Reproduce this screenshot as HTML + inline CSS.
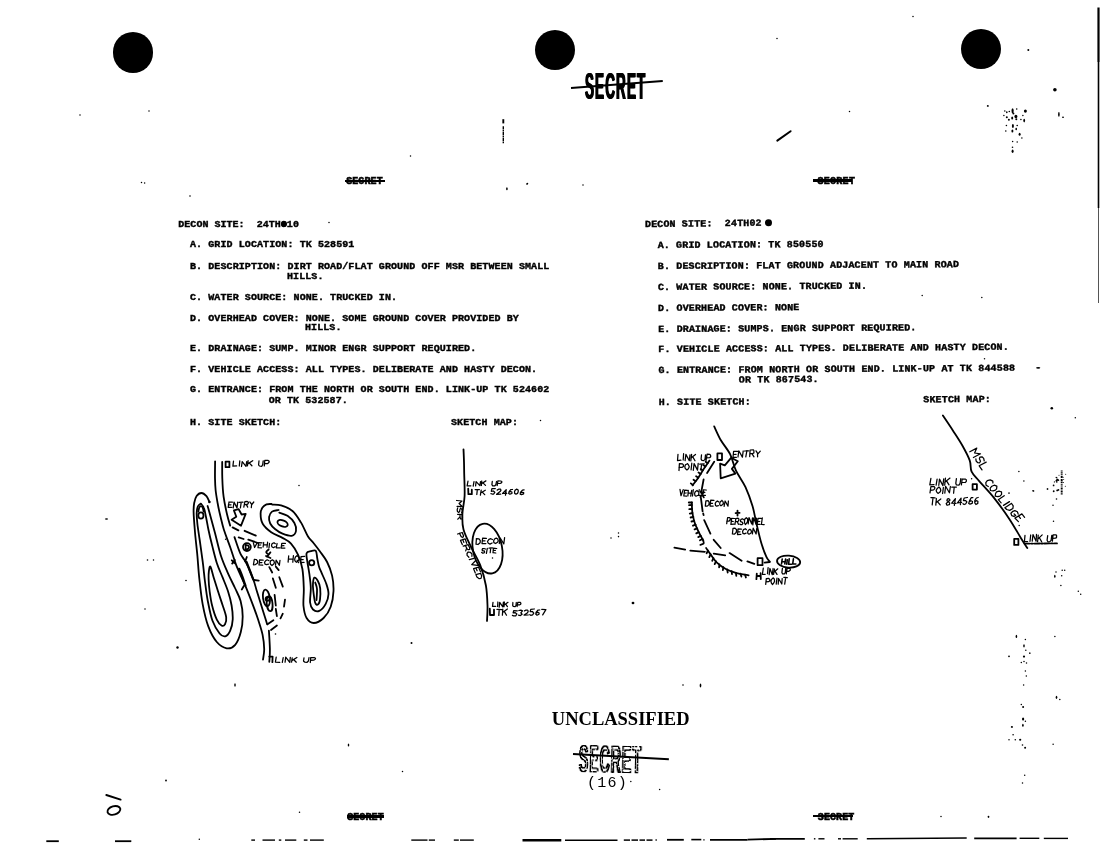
<!DOCTYPE html>
<html>
<head>
<meta charset="utf-8">
<title>Decon Sites</title>
<style>
html,body{margin:0;padding:0;background:#fff;}
body{width:1104px;height:848px;position:relative;overflow:hidden;filter:grayscale(1);font-family:"Liberation Mono",monospace;color:#000;}
.hole{position:absolute;border-radius:50%;background:#000;}
.t{position:absolute;white-space:pre;font-family:"Liberation Mono",monospace;font-weight:bold;font-size:10px;letter-spacing:0.09px;line-height:10px;height:10px;color:#000;margin-top:1.1px;transform:scaleY(0.93);transform-origin:0 7.4px;-webkit-text-stroke:0.42px #000;}
.blk{position:absolute;left:0;top:0;width:0;height:0;}
#rblk{transform-origin:645px 224px;transform:rotate(-0.36deg);}
#rblk .t{letter-spacing:0.15px;}
.hv{-webkit-text-stroke:0.55px #000;transform:scaleY(1.1);}
.stk{position:absolute;height:2.4px;background:#000;}
.big{position:absolute;font-family:"Liberation Sans",sans-serif;font-weight:bold;white-space:pre;transform-origin:0 0;}
.sm{position:absolute;font-family:"Liberation Mono",monospace;font-weight:bold;font-size:9px;line-height:9px;white-space:pre;transform-origin:0 0;}
.uncl{position:absolute;font-family:"Liberation Serif",serif;font-weight:bold;font-size:18.5px;line-height:18.5px;white-space:pre;}
.pg{position:absolute;font-family:"Liberation Mono",monospace;font-size:15px;line-height:15px;letter-spacing:1.25px;white-space:pre;}
svg{position:absolute;left:0;top:0;}
</style>
</head>
<body>

<!-- punch holes -->
<div class="hole" style="left:113px;top:32.2px;width:40.4px;height:40.4px;"></div>
<div class="hole" style="left:535px;top:30px;width:40.4px;height:40.4px;"></div>
<div class="hole" style="left:961px;top:28.7px;width:40.4px;height:40.4px;"></div>

<!-- top SECRET stamp -->
<div class="big" id="sec1" style="left:584.8px;top:68.9px;font-size:36px;line-height:36px;letter-spacing:3px;transform:scaleX(0.374);text-shadow:1.3px 0 #000,-1.3px 0 #000;">SECRET</div>
<div class="stk" style="left:571.2px;top:83.3px;width:92.2px;height:1.8px;transform-origin:0 50%;transform:rotate(-4.42deg);margin-top:3.6px;"></div>

<!-- small SECRET headers/footers -->
<div class="t hv" id="s1" style="left:346.2px;top:176.2px;">SECRET</div>
<div class="stk" style="left:344.8px;top:179.7px;width:40.2px;"></div>
<div class="t hv" id="s2" style="left:817.4px;top:176px;letter-spacing:0.3px;">SECRET</div>
<div class="stk" style="left:812.9px;top:179.4px;width:39px;"></div>
<div class="t hv" id="s3" style="left:347.2px;top:812px;">SECRET</div>
<div class="stk" style="left:346.7px;top:815.2px;width:37.5px;"></div>
<div class="t hv" id="s4" style="left:817.8px;top:812px;">SECRET</div>
<div class="stk" style="left:812.9px;top:814.9px;width:40.5px;"></div>

<!-- LEFT TEXT BLOCK -->
<div class="blk" id="lblk">
<div class="t" style="left:178.3px;top:218.9px;letter-spacing:0.03px;">DECON SITE:  24TH010</div>
<div class="hole" style="left:281.3px;top:220.6px;width:5.4px;height:6.2px;"></div>
<div class="t" style="left:190px;top:239.4px;">A. GRID LOCATION: TK 528591</div>
<div class="t" style="left:190px;top:260.9px;">B. DESCRIPTION: DIRT ROAD/FLAT GROUND OFF MSR BETWEEN SMALL</div>
<div class="t" style="left:287px;top:270.6px;">HILLS.</div>
<div class="t" style="left:190px;top:291.9px;">C. WATER SOURCE: NONE. TRUCKED IN.</div>
<div class="t" style="left:190px;top:312.9px;">D. OVERHEAD COVER: NONE. SOME GROUND COVER PROVIDED BY</div>
<div class="t" style="left:305px;top:322.4px;">HILLS.</div>
<div class="t" style="left:190px;top:343.2px;">E. DRAINAGE: SUMP. MINOR ENGR SUPPORT REQUIRED.</div>
<div class="t" style="left:190px;top:363.9px;">F. VEHICLE ACCESS: ALL TYPES. DELIBERATE AND HASTY DECON.</div>
<div class="t" style="left:190px;top:384.4px;">G. ENTRANCE: FROM THE NORTH OR SOUTH END. LINK-UP TK 524602</div>
<div class="t" style="left:268.7px;top:394.7px;">OR TK 532587.</div>
<div class="t" style="left:190px;top:416.9px;">H. SITE SKETCH:</div>
<div class="t" style="left:451px;top:416.9px;">SKETCH MAP:</div>
</div>

<!-- RIGHT TEXT BLOCK -->
<div class="blk" id="rblk">
<div class="t" style="left:645.4px;top:218.9px;letter-spacing:0.14px;transform:rotate(-0.3deg) scaleY(0.93);">DECON SITE:  24TH02</div>
<div class="hole" style="left:765.2px;top:219.6px;width:7px;height:7px;"></div>
<div class="t" style="left:657.5px;top:239.6px;">A. GRID LOCATION: TK 850550</div>
<div class="t" style="left:657.5px;top:260.7px;">B. DESCRIPTION: FLAT GROUND ADJACENT TO MAIN ROAD</div>
<div class="t" style="left:657.5px;top:281.6px;">C. WATER SOURCE: NONE. TRUCKED IN.</div>
<div class="t" style="left:657.5px;top:302.5px;">D. OVERHEAD COVER: NONE</div>
<div class="t" style="left:657.5px;top:323.7px;">E. DRAINAGE: SUMPS. ENGR SUPPORT REQUIRED.</div>
<div class="t" style="left:657.5px;top:344px;">F. VEHICLE ACCESS: ALL TYPES. DELIBERATE AND HASTY DECON.</div>
<div class="t" style="left:657.5px;top:364.5px;">G. ENTRANCE: FROM NORTH OR SOUTH END. LINK-UP AT TK 844588</div>
<div class="t" style="left:737.8px;top:374.8px;">OR TK 867543.</div>
<div class="t" style="left:657.5px;top:396.7px;">H. SITE SKETCH:</div>
<div class="t" style="left:922.2px;top:396.2px;">SKETCH MAP:</div>
</div>

<!-- bottom center -->
<div class="uncl" id="uncl" style="left:551.8px;top:709.6px;">UNCLASSIFIED</div>
<svg width="0" height="0" style="position:absolute"><defs>
<filter id="hollow" x="-5%" y="-10%" width="110%" height="120%">
<feMorphology in="SourceAlpha" operator="erode" radius="1.05" result="er"/>
<feComposite in="SourceGraphic" in2="er" operator="out" result="ol"/>
<feTurbulence type="fractalNoise" baseFrequency="0.55" numOctaves="2" seed="7" result="n"/>
<feColorMatrix in="n" type="matrix" values="0 0 0 0 0  0 0 0 0 0  0 0 0 0 0  0 0 0 -9 6.3" result="m"/>
<feComposite in="ol" in2="m" operator="in" result="k"/>
<feColorMatrix in="k" type="matrix" values="0 0 0 0 0  0 0 0 0 0  0 0 0 0 0  0 0 0 1.45 0"/>
</filter></defs></svg>
<div id="sec2w" style="position:absolute;left:570px;top:738px;width:90px;height:40px;filter:url(#hollow);transform:rotate(1.2deg);transform-origin:9px 20px;">
<div class="big" id="sec2" style="left:9.2px;top:2.4px;font-size:38px;line-height:38px;letter-spacing:3px;transform:scaleX(0.366);text-shadow:1.3px 0 #000,-1.3px 0 #000;">SECRET</div>
</div>
<div class="stk" style="left:573.1px;top:752.7px;width:95.6px;height:1.9px;transform-origin:0 50%;transform:rotate(3.1deg);"></div>
<div class="pg" id="pg" style="left:586.9px;top:775.9px;">(16)</div>

<!-- main drawing layer -->
<svg id="art" width="1104" height="848" viewBox="0 0 1104 848" fill="none" stroke="#000" stroke-width="1.8" stroke-linecap="round" stroke-linejoin="round">
<!--ART-->
<!-- sk1.svg -->
<path d="M215.1,461.3 C215.1,464.1 214.9,473.5 215.0,478.3 C215.1,483.1 215.2,485.9 215.6,490.0 C216.0,494.1 216.8,498.5 217.6,503.0 C218.4,507.5 219.5,512.5 220.6,517.0 C221.7,521.5 222.3,524.7 223.9,529.8 C225.5,534.9 228.3,541.8 230.4,547.7 C232.5,553.6 233.8,558.9 236.3,565.4 C238.9,571.9 243.0,580.3 245.7,586.6 C248.3,592.9 250.1,597.6 252.2,603.1 C254.3,608.6 256.4,614.3 258.1,619.6 C259.8,624.9 261.6,630.0 262.6,634.9 C263.6,639.8 264.1,644.9 264.2,649.0 C264.3,653.1 263.2,657.9 263.0,659.7"/>
<path d="M222.2,462.0 C222.2,464.7 222.1,472.5 222.3,478.3 C222.5,484.1 222.8,490.8 223.6,496.7 C224.4,502.6 225.8,508.9 226.9,513.7 C228.0,518.5 229.6,523.7 230.2,525.7"/>
<path d="M234.5,537.1 C235.5,539.9 238.4,549.3 240.4,553.6 C242.4,557.9 244.2,558.7 246.3,563.0 C248.5,567.3 251.5,574.8 253.3,579.5 C255.1,584.2 255.3,586.2 256.9,591.3 C258.5,596.4 261.1,604.7 262.8,610.2 C264.5,615.7 266.5,621.9 267.2,624.3"/>
<path d="M268.9,630.7 C269.1,633.8 269.8,643.8 269.9,649.0 C270.0,654.2 269.4,659.7 269.3,661.8"/>
<path d="M239.2,568.9 C239.7,570.2 241.4,574.2 242.4,577.0 C243.4,579.8 244.8,584.0 245.3,585.4" stroke-width="2.4"/>
<path d="M246.5,562.0 C247.1,563.5 248.9,568.1 250.0,571.0 C251.1,573.9 252.8,578.1 253.3,579.5" stroke-width="2.2"/>
<path d="M254.0,580.0 L258.7,580.7 M243.8,586.0 L241.8,589.5 M231.8,560.3 L235.0,563.3 M234.8,560.0 L232.2,563.6 M246.8,557.0 L245.2,561.5"/>
<path d="M209.3,501.6 C208.8,500.7 207.8,497.6 206.5,496.2 C205.2,494.8 203.2,493.0 201.5,493.0 C199.8,493.0 197.8,494.3 196.6,496.0 C195.4,497.7 194.7,500.3 194.2,503.0 C193.7,505.7 193.5,507.1 193.6,512.0 C193.7,516.9 194.4,524.9 195.0,532.2 C195.6,539.5 196.7,548.1 197.4,555.8 C198.1,563.5 198.4,570.3 199.3,578.3 C200.2,586.3 201.1,595.8 202.6,603.8 C204.1,611.8 205.9,620.0 208.3,626.4 C210.7,632.8 213.7,638.4 216.8,642.0 C219.9,645.6 223.6,647.8 226.7,648.3 C229.8,648.8 232.8,647.5 235.2,644.8 C237.5,642.1 239.6,636.7 240.8,632.0 C242.1,627.3 242.7,621.7 242.7,616.5 C242.7,611.3 241.9,605.8 240.6,601.0 C239.3,596.2 237.1,592.6 235.0,588.0 C232.9,583.4 230.3,578.7 228.0,573.4 C225.7,568.1 223.2,562.7 221.0,556.0 C218.8,549.3 216.8,539.7 215.0,533.0 C213.2,526.3 211.6,520.5 210.4,516.0 C209.2,511.5 208.1,507.7 207.6,506.0"/>
<circle cx="209.4" cy="502" r="1.3" fill="#000" stroke="none"/>
<path d="M200.9,503.6 C200.4,504.1 198.5,504.9 197.8,506.5 C197.1,508.1 196.8,510.1 196.7,513.0 C196.6,515.9 196.9,519.5 197.4,524.0 C197.9,528.5 198.8,533.7 199.7,540.0 C200.6,546.3 201.8,554.9 202.7,561.7 C203.6,568.5 204.1,574.5 204.9,581.0 C205.8,587.5 206.5,594.4 207.8,601.0 C209.1,607.6 210.5,615.4 212.5,620.8 C214.5,626.2 217.5,630.9 219.6,633.5 C221.7,636.1 223.5,636.8 225.3,636.3 C227.1,635.8 229.0,633.5 230.2,630.7 C231.4,627.9 232.5,623.8 232.7,619.6 C232.9,615.4 232.4,610.2 231.6,605.5 C230.8,600.8 229.5,596.0 228.0,591.3 C226.5,586.6 224.4,581.9 222.5,577.2 C220.6,572.5 218.5,568.3 216.8,563.0 C215.1,557.7 213.5,550.8 212.1,545.3 C210.7,539.8 209.5,534.7 208.5,530.0 C207.5,525.3 206.8,520.7 206.0,517.0 C205.2,513.3 204.8,510.2 203.9,508.0 C203.1,505.8 201.4,504.3 200.9,503.6"/>
<ellipse cx="200.9" cy="515.5" rx="2.6" ry="3.2"/>
<path d="M198.3,511.5 C198.5,510.8 198.9,508.4 199.3,507.5 C199.8,506.6 200.4,506.1 201.0,506.2 C201.6,506.2 202.4,506.9 202.8,507.8 C203.2,508.7 203.5,510.9 203.6,511.5"/>
<path d="M210.4,566.6 C209.6,565.6 209.2,568.9 208.9,571.0 C208.6,573.1 208.5,575.7 208.6,579.0 C208.7,582.3 209.0,586.6 209.6,591.0 C210.2,595.4 210.9,600.7 212.1,605.5 C213.3,610.3 215.2,616.3 216.8,619.6 C218.4,622.9 220.1,624.7 221.5,625.5 C222.9,626.3 224.2,625.7 225.0,624.3 C225.8,622.9 226.6,620.4 226.2,617.3 C225.8,614.2 224.1,609.8 222.7,605.5 C221.3,601.2 219.5,596.0 218.0,591.3 C216.5,586.6 214.9,581.3 213.6,577.2 C212.3,573.1 211.2,567.6 210.4,566.6Z"/>
<path d="M271.6,504.0 C270.8,504.1 268.0,503.8 266.5,504.4 C265.0,505.0 263.5,506.1 262.5,507.6 C261.5,509.1 260.6,510.8 260.6,513.5 C260.6,516.2 260.9,520.7 262.7,523.8 C264.5,526.9 267.9,529.9 271.2,532.3 C274.5,534.6 279.2,536.0 282.5,537.9 C285.8,539.8 288.4,540.8 291.0,543.6 C293.6,546.4 296.2,550.7 298.1,554.9 C300.0,559.1 301.4,563.4 302.4,569.0 C303.3,574.6 303.6,582.1 303.8,588.3 C304.0,594.5 303.0,601.0 303.5,606.0 C304.0,611.0 304.9,615.2 306.6,618.0 C308.3,620.8 310.9,623.0 313.7,623.0 C316.5,623.0 320.8,620.7 323.6,618.0 C326.4,615.3 329.1,611.2 330.7,606.7 C332.3,602.2 333.3,596.3 333.5,591.1 C333.7,585.9 333.2,580.5 332.1,575.6 C331.0,570.8 329.1,566.0 327.1,562.0 C325.1,558.0 322.3,554.7 320.0,551.5 C317.7,548.3 315.5,545.5 313.5,543.0 C311.5,540.5 310.1,539.9 308.0,536.5 C305.9,533.1 303.5,526.6 300.9,522.4 C298.3,518.1 295.8,513.8 292.5,511.0 C289.2,508.2 284.5,506.5 281.1,505.4 C277.7,504.3 273.7,504.7 272.2,504.6"/>
<path d="M278.6,510.0 C277.5,510.3 273.6,510.4 272.0,511.6 C270.4,512.8 269.4,515.0 269.1,517.0 C268.8,519.0 269.2,521.5 270.2,523.5 C271.2,525.5 272.9,527.3 275.0,529.0 C277.1,530.7 279.7,532.6 282.5,533.7 C285.3,534.8 289.4,536.3 291.7,535.8 C293.9,535.3 295.6,532.9 296.0,530.8 C296.4,528.7 295.8,525.5 294.4,523.0 C293.0,520.5 290.0,517.5 287.5,515.8 C285.0,514.1 280.7,513.1 279.3,512.6"/>
<ellipse cx="282.6" cy="523.4" rx="5.4" ry="3" transform="rotate(22 282.6 523.4)"/>
<path d="M306.6,553.2 C307.2,551.4 309.5,551.6 311.0,551.2 C312.5,550.8 314.8,549.8 315.8,550.9 C316.8,552.0 316.7,555.5 317.2,558.0 C317.7,560.5 318.2,563.8 318.9,566.2 C319.6,568.7 320.2,569.7 321.5,572.7 C322.8,575.7 325.2,580.6 326.4,584.1 C327.6,587.6 328.6,590.7 328.5,594.0 C328.4,597.3 327.2,601.1 325.7,603.9 C324.2,606.7 321.4,610.0 319.3,610.9 C317.2,611.8 314.5,610.9 313.0,609.5 C311.5,608.1 310.5,606.0 310.1,602.5 C309.7,599.0 310.9,593.0 310.8,588.3 C310.7,583.6 310.0,578.6 309.4,574.2 C308.8,569.8 307.9,565.5 307.4,562.0 C306.9,558.5 306.0,555.0 306.6,553.2Z"/>
<circle cx="311.7" cy="562.7" r="2.6"/>
<path d="M314.4,577.7 C313.6,578.0 313.2,581.0 313.0,583.0 C312.8,585.0 312.8,586.8 313.2,590.0 C313.6,593.2 314.3,600.1 315.1,602.5 C315.9,604.9 317.1,605.1 317.9,604.6 C318.7,604.1 319.6,602.3 320.0,599.6 C320.4,596.9 320.5,591.4 320.2,588.3 C319.9,585.2 319.0,583.0 318.0,581.2 C317.0,579.4 315.2,577.4 314.4,577.7Z"/>
<path d="M315.2,582.5 C315.5,583.6 316.8,586.1 317.0,589.0 C317.2,591.9 316.6,598.2 316.5,600.0"/>
<path d="M233.9,510.4 L238.7,509.2 L241.6,514.5 L245.7,513.9 L241.0,525.7 L231.6,519.8 L236.3,516.8Z"/>
<path d="M232.6,527.4 L238.4,530.4 M244.6,530.8 L255.8,535.6 M238.7,537.4 L243.6,539.0 M248.3,539.6 L258.0,543.0"/>
<circle cx="246.9" cy="547.1" r="3.9"/>
<path d="M245.6,545.0 L245.6,549.4"/>
<path d="M245.6,545.0 C246.1,545.2 248.1,545.4 248.6,546.0 C249.1,546.6 248.9,548.0 248.4,548.6 C247.9,549.2 246.1,549.3 245.6,549.4"/>
<ellipse cx="266.4" cy="598" rx="3.4" ry="8.4" transform="rotate(-8 266.4 598)"/>
<ellipse cx="269.6" cy="603.6" rx="2.9" ry="7.6" transform="rotate(-6 269.6 603.6)"/>
<circle cx="267.6" cy="598.8" r="2"/>
<path d="M269.3,567.1 L272.2,572.5 M275.8,566.6 L278.7,570.1 M272.8,578.3 L275.8,587.8 M279.3,577.2 L282.8,586.6 M274.6,594.9 L275.8,605.5 M285.0,599.6 L284.0,606.7 M275.8,609.0 L276.9,616.1 M282.8,613.7 L280.5,618.4 M273.4,620.2 L267.5,624.3 M276.9,625.5 L271.0,630.0"/>
<circle cx="275.5" cy="634" r="0.8" fill="#000" stroke="none"/>
<path d="M225.6,461.6 L229.4,461.6 L229.4,467.2 L225.6,467.2Z"/>
<path d="M269.3,656.6 L272.6,656.6 L272.4,662.2"/>
<path d="M233.5,461.1 L232.9,466.1 L236.6,465.9 M239.8,460.9 L239.3,466.0 M241.5,466.5 L242.2,461.6 L246.0,466.3 L246.7,461.6 M248.1,460.6 L247.5,465.8 M252.7,460.7 L247.7,463.9 M249.2,462.9 L251.9,465.8 M259.0,460.8 L258.6,464.8 L259.4,466.0 L261.8,466.3 L262.7,464.6 L263.2,460.8 M264.3,465.9 L264.8,460.3 L268.1,460.4 L269.2,461.2 L268.9,462.6 L267.7,463.5 L264.5,463.5" stroke-width="1.25"/>
<path d="M232.4,502.2 L229.0,502.0 L228.2,507.3 L231.8,507.3 M228.4,504.7 L231.0,504.8 M233.2,507.9 L234.0,502.1 L237.0,507.9 L237.7,502.2 M239.0,502.3 L243.0,502.2 M241.2,502.4 L240.4,507.8 M243.8,507.1 L244.9,501.6 L247.2,501.4 L248.4,502.3 L248.2,503.5 L247.1,504.6 L244.3,504.6 M246.3,504.4 L247.7,507.1 M249.8,501.9 L251.8,504.5 L253.8,502.0 M251.6,504.7 L251.3,507.6" stroke-width="1.25"/>
<path d="M253.3,542.6 L254.6,547.5 L257.2,542.6 M262.1,542.8 L258.6,542.7 L258.0,547.7 L261.5,547.8 M258.6,545.2 L260.7,545.0 M263.7,542.5 L263.1,547.0 M267.6,542.2 L267.0,547.2 M263.4,544.7 L267.2,544.9 M269.5,543.3 L269.0,547.8 M275.3,543.7 L274.0,542.7 L272.2,543.6 L271.5,545.2 L271.9,546.8 L273.4,547.7 L275.0,546.7 M277.1,543.5 L276.2,547.8 L279.8,547.9 M285.4,543.4 L281.8,543.4 L281.1,548.0 L284.9,548.0 M281.5,545.8 L283.9,545.6" stroke-width="1.25"/>
<path d="M254.3,559.6 L253.4,564.8 L255.4,564.6 L257.4,563.2 L257.7,561.2 L256.2,559.5 L254.3,559.4 M263.2,560.2 L259.6,559.9 L259.0,564.9 L262.7,565.2 M259.4,562.6 L261.9,562.6 M269.0,560.7 L267.2,559.8 L265.7,560.7 L264.5,562.3 L265.0,564.2 L266.6,564.7 L268.5,564.2 M272.5,559.8 L270.6,560.9 L270.1,562.7 L270.5,564.2 L272.0,565.5 L273.7,564.1 L274.4,562.8 L274.0,561.1 L272.4,559.8 M275.5,565.2 L276.1,560.2 L279.4,565.3 L280.0,560.3" stroke-width="1.25"/>
<path d="M288.7,555.8 L288.1,562.1 M293.4,555.7 L292.8,562.2 M288.4,559.0 L293.2,559.2 M296.9,555.7 L295.4,557.0 L294.7,559.1 L294.9,560.8 L296.4,562.3 L298.2,561.1 L299.1,559.0 L298.6,556.9 L296.9,555.6 M297.1,560.2 L298.6,562.7 M304.7,556.4 L301.0,556.6 L300.5,562.6 L304.1,562.4 M300.7,559.5 L303.2,559.6" stroke-width="1.25"/>
<path d="M276.2,657.2 L275.4,662.2 L279.8,662.3 M283.2,657.6 L282.3,662.3 M285.1,662.2 L285.7,657.2 L289.8,662.4 L290.3,657.3 M292.2,657.8 L291.6,662.2 M296.9,657.5 L291.8,660.6 M293.8,659.7 L296.3,662.2 M304.0,657.8 L303.5,661.2 L304.9,662.1 L307.1,662.3 L308.4,661.0 L309.0,657.6 M310.3,662.5 L310.7,657.6 L314.1,657.5 L315.5,658.3 L315.0,659.5 L313.6,660.2 L310.5,660.3" stroke-width="1.25"/>
<path d="M268.6,549.5 C268.2,549.9 266.2,551.2 266.2,552.0 C266.2,552.8 267.7,554.2 268.4,554.3 C269.1,554.4 270.6,552.0 270.4,552.4 C270.2,552.8 267.6,555.9 267.0,556.6"/>
<path d="M266.0,556.0 L270.5,558.0"/>
<!-- sk2.svg -->
<path d="M463.5,449.4 C463.6,451.5 463.9,458.0 464.0,462.0 C464.1,466.0 464.1,467.9 464.2,473.6 C464.3,479.3 464.9,489.3 464.6,496.0 C464.3,502.7 462.6,508.3 462.4,513.9 C462.2,519.5 462.0,523.9 463.5,529.5 C465.0,535.1 468.5,541.5 471.3,547.5 C474.1,553.5 477.9,559.1 480.3,565.4 C482.7,571.7 484.7,578.8 485.9,585.5 C487.1,592.2 487.3,599.8 487.5,605.7 C487.7,611.6 487.1,618.4 487.0,620.9"/>
<ellipse cx="487.5" cy="548.6" rx="14.6" ry="25.2" transform="rotate(-11 487.5 548.6)"/>
<path d="M468.0,481.1 L467.1,485.9 L470.9,485.8 M474.0,481.7 L473.2,486.1 M475.6,485.9 L476.1,481.6 L479.9,485.6 L480.5,481.6 M481.8,481.0 L481.4,485.5 M485.9,480.9 L481.4,483.8 M483.2,483.1 L485.5,485.4 M492.3,481.4 L491.9,484.6 L492.7,485.8 L494.8,485.8 L495.9,484.7 L496.5,481.5 M497.2,485.5 L497.9,480.9 L500.7,481.0 L501.8,481.5 L501.7,482.6 L500.5,483.3 L497.5,483.5" stroke-width="1.25"/>
<path d="M468.2,488.6 L468.4,494.2 L471.8,494.2 L471.8,489.6"/>
<path d="M475.1,489.5 L479.4,489.5 M477.3,489.8 L476.8,494.5 M481.2,490.1 L480.4,495.1 M485.3,490.2 L480.6,493.0 M482.3,492.1 L484.7,494.7 M495.3,488.6 L491.9,488.7 L491.3,491.3 L493.3,491.0 L494.8,492.3 L493.7,494.0 L492.1,494.0 L490.9,493.7 M497.2,490.1 L498.6,489.2 L500.6,489.1 L500.9,490.4 L500.1,491.6 L496.6,494.3 L500.7,494.2 M505.5,495.2 L506.2,489.7 L502.6,493.5 L506.8,493.3 M512.5,489.5 L510.7,489.7 L509.1,491.6 L508.7,493.5 L509.9,494.2 L511.9,493.5 L511.9,492.0 L510.6,491.5 L509.0,492.1 M516.7,489.2 L515.2,490.1 L514.5,491.7 L514.7,493.4 L516.0,494.2 L517.5,493.4 L518.2,491.7 L518.2,490.0 L516.6,489.1 M524.1,489.9 L522.4,490.2 L520.6,492.1 L520.2,494.1 L521.5,494.7 L523.6,494.0 L523.7,492.7 L522.2,492.4 L520.3,492.8" stroke-width="1.25"/>
<path d="M456.6,500.5 L462.0,501.0 L459.1,503.5 L462.4,506.7 L457.1,506.4 M461.6,512.8 L462.4,510.9 L461.7,509.1 L460.7,508.2 L459.9,509.5 L459.6,511.7 L458.4,512.4 L457.4,511.3 L457.2,509.7 L457.7,507.9 M457.6,514.3 L462.4,514.6 L462.5,517.8 L462.2,518.9 L460.7,519.0 L460.1,517.6 L459.9,514.3 M460.0,516.8 L457.8,519.2" stroke-width="1.25"/>
<path d="M457.6,534.0 L462.2,532.5 L463.5,535.7 L463.3,537.0 L462.3,537.3 L461.1,536.6 L459.6,533.4 M466.7,543.3 L465.1,538.8 L460.5,540.4 L462.3,544.6 M462.8,539.4 L463.8,542.4 M463.3,546.2 L468.1,544.6 L469.7,547.8 L469.7,549.4 L468.3,549.7 L466.9,548.7 L465.5,545.6 M466.7,547.9 L465.7,550.9 M471.9,556.3 L472.0,554.0 L470.3,552.3 L468.2,552.0 L467.0,553.5 L467.1,555.4 L468.9,557.3 M474.0,558.3 L469.3,559.6 M475.5,560.8 L471.7,564.6 L477.5,565.4 M480.4,571.5 L478.6,567.2 L473.6,568.7 L475.3,573.0 M475.9,568.0 L477.1,570.8 M480.4,573.3 L475.9,574.6 L476.9,577.1 L479.2,578.7 L481.0,578.3 L481.7,575.9 L480.6,573.2" stroke-width="1.25"/>
<path d="M476.4,539.0 L476.0,544.2 L478.0,544.5 L480.1,542.8 L480.3,540.6 L479.0,538.8 L476.3,538.6 M486.4,538.4 L482.6,538.2 L482.0,543.6 L485.9,543.6 M482.3,540.9 L485.0,540.8 M492.4,539.5 L490.8,538.7 L488.9,539.4 L487.5,541.5 L488.3,543.3 L490.0,544.1 L492.1,543.0 M496.3,538.1 L494.5,539.0 L493.6,540.9 L493.9,542.6 L495.6,543.5 L497.5,542.3 L498.3,541.0 L497.8,539.1 L496.1,538.0 M499.3,543.5 L500.2,538.0 L503.8,543.9 L504.6,537.7" stroke-width="1.25"/>
<path d="M485.5,549.0 L484.0,548.5 L482.5,548.7 L482.1,550.0 L482.8,550.8 L484.3,550.9 L484.6,552.1 L484.0,552.9 L482.7,553.2 L481.6,552.3 M487.3,548.4 L486.4,553.3 M489.0,548.1 L492.4,547.8 M490.7,548.0 L490.2,552.7 M496.7,548.5 L493.4,548.2 L493.0,552.7 L495.8,553.0 M493.4,550.5 L495.4,550.4" stroke-width="1.25"/>
<path d="M493.0,602.4 L492.5,606.4 L495.7,606.4 M497.9,602.0 L497.6,606.5 M499.2,607.1 L499.7,602.3 L502.8,606.9 L503.4,602.1 M504.4,602.0 L504.0,606.6 M508.0,602.3 L504.2,605.0 M505.7,604.1 L507.4,606.7 M512.9,602.5 L512.7,605.4 L513.3,606.5 L515.1,606.7 L516.0,605.6 L516.3,602.5 M517.1,606.5 L517.8,602.3 L520.1,602.3 L520.9,603.1 L520.7,604.2 L519.8,604.8 L517.4,604.6" stroke-width="1.25"/>
<path d="M489.8,608.6 L490.0,615.0 L494.0,615.0 L494.0,609.6"/>
<path d="M497.0,609.4 L501.7,609.6 M499.2,609.5 L498.8,615.4 M502.8,609.2 L502.4,615.1 M507.4,609.0 L502.6,612.5 M504.4,611.6 L506.5,615.2 M517.3,610.8 L513.7,610.7 L513.1,612.8 L515.0,612.6 L516.9,614.0 L515.7,615.8 L513.6,615.8 L512.4,615.3 M518.8,610.5 L520.8,610.1 L522.5,610.9 L520.8,612.8 L522.1,614.2 L520.4,615.6 L518.5,615.2 M524.5,610.9 L526.0,610.0 L527.5,610.0 L528.2,611.0 L527.6,612.7 L524.1,615.1 L528.2,615.0 M534.3,609.0 L530.8,609.3 L530.2,611.7 L532.4,611.5 L533.8,613.1 L532.6,614.8 L530.7,615.3 L529.8,614.7 M539.7,610.0 L537.9,610.2 L536.0,612.5 L535.8,614.3 L537.0,615.2 L539.0,614.2 L539.1,613.0 L537.9,612.2 L536.2,613.1 M541.8,609.4 L545.9,609.6 L542.7,614.9" stroke-width="1.25"/>
<!-- sk3.svg -->
<path d="M714.2,426.4 C715.3,428.7 718.1,435.4 720.7,440.0 C723.4,444.6 727.6,449.1 730.1,454.2 C732.6,459.3 733.4,465.2 736.0,470.7 C738.6,476.2 742.8,481.3 745.5,487.2 C748.2,493.1 750.7,500.1 752.5,506.0 C754.3,511.9 754.7,516.3 756.2,522.5 C757.7,528.7 759.6,537.3 761.3,543.0 C763.0,548.7 765.0,553.8 766.4,556.9 C767.8,560.0 769.2,560.8 769.7,561.6"/>
<path d="M769.7,562.0 L764.6,562.6"/>
<path d="M717.4,453.4 L722.0,453.4 L722.0,460.0 L717.4,460.0Z"/>
<path d="M757.6,558.2 L762.5,558.2 L762.5,565.2 L757.6,565.2Z"/>
<path d="M731.3,457.7 L724.8,465.4 L720.1,463.6 L720.7,478.3 L735.4,473.6 L731.9,468.9 L737.8,461.2Z"/>
<path d="M709.5,460.6 C708.6,461.9 706.1,465.5 704.2,468.3 C702.3,471.1 700.2,474.9 698.3,477.7 C696.4,480.5 693.5,484.1 692.6,485.4"/>
<path d="M707.7,463.2 L705.6,461.7 M705.4,466.6 L703.2,465.1 M702.9,470.4 L700.7,469.1 M700.7,473.9 L698.5,472.5 M698.3,477.7 L696.1,476.3 M695.6,481.3 L693.5,479.8 M692.9,485.0 L690.8,483.4"/>
<path d="M691.8,502.5 C691.9,504.1 691.9,508.9 692.3,512.0 C692.7,515.1 693.3,518.1 694.3,521.4 C695.3,524.7 697.0,528.4 698.5,531.6 C700.0,534.8 702.4,538.9 703.2,540.4"/>
<path d="M691.9,505.0 L689.1,505.1 M692.1,509.0 L689.3,509.1 M692.5,513.0 L689.8,513.6 M693.4,516.9 L690.6,517.5 M694.2,520.9 L691.5,521.5 M695.6,524.6 L693.0,525.7 M697.2,528.4 L694.6,529.4 M698.7,532.1 L696.3,533.4 M700.7,535.8 L698.3,537.1 M702.5,539.0 L700.0,540.3"/>
<path d="M703.2,540.4 C703.3,540.9 704.1,542.9 703.6,543.6 C703.1,544.4 700.9,544.7 700.4,544.9"/>
<path d="M688.8,502.5 L692.0,502.5"/>
<path d="M706.1,548.0 C706.9,549.1 708.8,552.0 710.6,554.4 C712.4,556.8 714.4,560.2 716.9,562.6 C719.4,565.0 722.6,567.3 725.8,569.0 C729.0,570.7 732.1,571.8 735.9,572.8 C739.7,573.8 746.5,574.9 748.6,575.3"/>
<path d="M707.9,550.6 L706.6,553.3 M710.6,554.4 L709.3,557.1 M713.4,558.1 L712.2,560.8 M716.0,561.4 L714.7,564.1 M719.4,564.4 L719.1,567.4 M723.3,567.2 L722.9,570.1 M727.2,569.5 L727.7,572.5 M731.6,571.2 L732.0,574.1 M735.9,572.8 L736.3,575.8 M740.5,573.7 L741.4,576.6 M745.0,574.6 L745.9,577.5"/>
<path d="M714.2,461.8 L707.1,473.0 M703.6,479.5 L701.3,491.9 M700.9,497.8 L702.6,511.3 M703.2,513.5 L703.6,515.1 M704.2,520.1 L710.4,533.6 M713.7,539.8 L720.7,548.0 M729.6,553.1 L741.6,560.7 M747.4,561.4 L754.3,563.9"/>
<path d="M674.4,547.7 L685.2,549.6 M690.3,550.6 L704.9,551.8 M713.7,553.7 L725.2,555.4"/>
<ellipse cx="788.6" cy="561.6" rx="11.6" ry="6" transform="rotate(4 788.6 561.6)"/>
<path d="M782.2,559.1 L781.5,564.0 M785.6,559.1 L784.8,564.0 M781.8,561.7 L785.2,561.6 M787.3,559.8 L786.7,564.2 M789.2,558.8 L788.6,564.3 L791.6,564.3 M793.4,558.9 L792.7,564.0 L795.9,564.0" stroke-width="1.6"/>
<path d="M756.8,573.6 L756.4,579.2 M760.6,573.2 L760.8,579.0 M756.6,576.0 L760.8,575.8"/>
<path d="M678.0,454.3 L677.5,460.6 L680.9,460.2 M683.6,453.7 L683.2,460.0 M685.1,460.7 L685.9,454.4 L689.3,460.7 L690.0,454.9 M691.6,454.4 L690.8,460.8 M695.5,454.4 L691.0,457.9 M692.8,456.9 L695.0,460.8 M701.5,454.8 L701.1,459.1 L701.9,460.4 L703.7,460.6 L705.0,459.4 L705.5,454.9 M706.0,460.6 L707.1,454.2 L709.9,454.3 L710.6,455.3 L710.7,456.7 L709.6,457.7 L706.6,457.8" stroke-width="1.25"/>
<path d="M679.0,470.5 L679.4,463.6 L682.5,463.8 L683.4,464.9 L683.4,466.4 L682.3,467.3 L678.9,467.3 M687.4,463.7 L685.4,464.8 L684.8,466.8 L685.3,468.6 L686.9,469.9 L688.4,468.7 L689.3,466.8 L688.6,465.2 L687.5,463.6 M691.8,463.2 L691.1,469.8 M693.3,470.3 L694.1,463.6 L697.5,470.1 L698.2,463.4 M699.7,464.1 L704.2,463.9 M701.6,464.2 L700.9,470.1" stroke-width="1.25"/>
<path d="M737.6,451.3 L733.6,451.4 L733.0,457.3 L736.4,457.3 M733.4,454.5 L736.1,454.3 M738.0,457.0 L738.8,450.8 L742.4,457.1 L743.2,451.0 M744.5,451.0 L748.6,450.8 M746.9,450.6 L745.8,456.8 M749.7,456.6 L750.1,450.0 L753.4,449.8 L753.9,450.7 L753.9,452.9 L752.8,453.5 L749.8,453.7 M751.9,453.6 L754.0,456.8 M756.0,450.8 L757.9,453.9 L760.3,451.1 M757.5,454.0 L757.6,456.8" stroke-width="1.25"/>
<path d="M680.0,489.3 L681.0,495.7 L683.2,489.6 M687.5,490.3 L684.6,490.2 L683.8,496.0 L686.6,496.2 M684.2,493.1 L686.1,493.0 M688.3,490.3 L687.9,495.9 M691.7,490.3 L690.7,496.2 M687.9,492.9 L691.4,493.4 M693.3,489.7 L692.5,496.0 M698.0,491.6 L697.0,490.5 L695.3,491.7 L694.6,493.2 L694.9,495.5 L696.0,496.2 L697.6,495.5 M699.2,489.7 L698.6,495.4 L701.3,495.4 M706.3,490.0 L703.3,489.8 L702.7,495.4 L705.4,495.4 M702.7,492.9 L704.8,492.5" stroke-width="1.25"/>
<path d="M705.9,500.9 L705.3,506.1 L707.3,506.1 L709.0,504.6 L709.1,502.2 L708.1,500.7 L706.0,500.9 M714.0,500.3 L710.7,500.2 L710.0,506.0 L713.2,506.0 M710.4,503.3 L712.5,503.3 M718.7,501.9 L717.3,501.0 L716.0,501.9 L715.2,503.6 L715.6,505.5 L716.6,506.2 L718.4,505.7 M722.0,500.5 L720.3,501.8 L719.7,503.4 L719.9,505.0 L721.0,505.8 L722.7,504.6 L723.4,503.4 L723.0,501.7 L721.8,500.4 M724.1,506.3 L725.1,501.0 L728.0,506.1 L728.4,501.0" stroke-width="1.25"/>
<path d="M737.5,510.6 L737.5,515.6 M735.6,513.2 L739.6,512.8"/>
<path d="M726.7,523.6 L727.6,517.6 L729.4,517.6 L730.4,518.4 L730.0,520.0 L729.1,521.1 L726.8,521.2 M734.9,518.5 L731.6,518.3 L730.9,524.4 L733.8,524.2 M731.4,521.2 L733.3,521.5 M734.9,524.3 L735.9,518.5 L738.0,518.2 L739.0,519.1 L738.5,520.9 L737.6,521.7 L735.5,521.5 M737.3,521.6 L738.4,524.3 M743.6,519.7 L742.5,518.8 L741.1,519.4 L740.3,520.8 L740.7,521.6 L742.1,522.1 L743.0,523.4 L742.0,524.6 L740.8,524.7 L739.8,524.1 M746.3,517.7 L744.7,519.3 L744.5,521.1 L744.6,522.9 L745.4,524.6 L746.8,522.9 L747.6,521.2 L747.6,519.0 L746.6,517.8 M748.2,523.8 L749.0,517.6 L751.7,523.9 L752.5,517.9 M752.8,524.8 L753.7,518.0 L756.1,524.3 L756.6,518.2 M761.1,518.4 L758.1,518.4 L757.1,524.3 L760.0,524.4 M757.7,521.6 L759.7,521.5 M762.3,517.9 L761.4,524.5 L764.2,524.6" stroke-width="1.25"/>
<path d="M733.0,528.3 L732.4,534.0 L734.3,534.2 L736.2,532.6 L736.6,529.8 L735.0,528.1 L733.4,528.4 M741.4,529.1 L738.1,528.8 L737.5,534.6 L740.9,534.4 M737.7,531.7 L740.0,531.8 M746.4,529.7 L745.4,528.7 L743.5,529.6 L742.6,531.2 L742.9,533.4 L744.3,533.9 L746.1,533.1 M749.9,529.2 L748.4,530.2 L747.6,531.9 L747.9,533.4 L749.0,534.2 L750.8,533.3 L751.5,531.8 L751.0,530.3 L749.9,529.3 M752.4,533.9 L753.2,528.2 L756.1,534.0 L756.7,528.6" stroke-width="1.25"/>
<path d="M763.3,568.2 L762.4,574.5 L765.2,574.3 M768.1,567.6 L767.5,573.7 M769.2,574.6 L769.9,568.5 L772.3,574.7 L773.1,568.5 M774.5,569.0 L773.6,574.4 M777.8,568.8 L773.9,572.2 M775.1,571.3 L777.0,574.4 M782.4,568.3 L781.9,572.4 L782.6,573.9 L784.4,573.9 L785.3,572.5 L785.7,568.4 M786.3,573.8 L787.1,568.1 L789.7,568.3 L790.3,568.9 L790.2,570.2 L788.9,571.3 L786.8,571.2" stroke-width="1.25"/>
<path d="M765.7,584.4 L766.3,578.6 L768.8,578.4 L769.9,579.6 L769.6,581.0 L768.6,581.7 L765.9,581.9 M773.2,577.9 L771.8,579.1 L770.9,581.0 L771.4,583.2 L772.5,584.5 L773.8,582.9 L774.6,581.3 L774.3,579.0 L773.0,577.8 M777.0,578.1 L776.2,584.2 M778.2,584.1 L778.6,578.5 L781.8,584.0 L782.2,578.5 M783.8,577.4 L787.3,577.6 M785.7,577.5 L784.7,584.2" stroke-width="1.25"/>
<path d="M700.6,491.5 L703.8,497.4 M703.6,491.8 L700.4,497.0"/>
<!-- sk4.svg -->
<path d="M942.9,415.5 C944.5,417.9 949.5,425.2 952.7,430.2 C955.9,435.2 959.4,440.3 962.2,445.3 C965.0,450.3 968.1,456.0 969.7,460.4 C971.3,464.8 970.0,468.2 971.6,471.7 C973.2,475.1 975.4,476.7 979.2,481.1 C983.0,485.5 989.2,491.8 994.2,498.1 C999.2,504.4 1004.9,512.3 1009.3,518.9 C1013.7,525.5 1017.7,532.8 1020.7,537.7 C1023.7,542.6 1026.2,546.4 1027.3,548.1"/>
<path d="M969.8,451.8 L976.8,448.1 L974.6,453.0 L980.5,453.8 L973.4,457.5 M984.2,460.8 L983.7,458.4 L982.0,456.8 L979.9,457.1 L979.4,458.7 L980.5,461.3 L979.6,462.8 L977.8,462.7 L976.1,461.0 L975.9,458.9 M986.2,462.1 L979.2,465.8 L982.0,469.9" stroke-width="1.25"/>
<path d="M992.9,482.9 L992.8,481.1 L990.2,479.9 L987.3,480.6 L985.8,482.7 L986.1,485.2 L988.3,486.5 M996.8,486.2 L994.2,485.2 L991.9,486.2 L990.2,488.1 L990.4,490.5 L993.1,490.9 L995.4,490.2 L996.6,488.9 L996.9,486.3 M1001.6,492.0 L999.1,491.2 L996.5,491.9 L995.5,493.7 L995.2,496.2 L997.8,496.7 L1000.0,496.1 L1001.6,494.3 L1001.5,491.8 M1004.2,495.7 L998.3,499.7 L1001.1,502.9 M1009.5,501.6 L1003.5,505.4 M1011.3,503.4 L1004.9,507.7 L1006.7,509.5 L1009.7,510.4 L1012.9,508.5 L1013.2,505.9 L1011.6,503.5 M1018.2,514.1 L1017.4,511.8 L1014.8,510.6 L1012.9,511.3 L1010.9,513.2 L1011.7,515.6 L1014.0,516.4 L1015.7,515.5 L1014.1,513.9 M1024.6,517.3 L1021.9,513.9 L1014.9,518.1 L1018.4,521.6 M1018.7,516.1 L1020.4,518.4" stroke-width="1.25"/>
<path d="M930.9,478.3 L929.8,484.8 L934.0,484.6 M937.1,479.2 L936.1,485.2 M938.8,485.3 L939.5,479.1 L942.9,485.6 L943.7,478.9 M945.4,478.2 L944.7,485.2 M950.0,478.1 L944.7,482.3 M946.7,481.1 L949.0,484.9 M956.4,478.7 L955.8,483.3 L956.4,485.0 L958.9,485.1 L960.1,483.3 L960.8,478.6 M961.4,484.8 L962.2,479.0 L965.5,479.1 L966.4,479.9 L966.2,481.6 L965.2,482.5 L962.1,482.4" stroke-width="1.25"/>
<path d="M930.0,492.9 L930.9,486.5 L934.0,486.5 L934.9,487.6 L934.6,488.9 L933.6,489.9 L930.4,490.3 M938.9,487.1 L937.3,488.4 L936.2,490.3 L936.6,491.9 L938.0,493.4 L940.0,492.1 L940.8,490.5 L940.3,488.5 L939.1,487.2 M943.4,487.5 L942.6,493.5 M944.8,493.1 L945.6,486.3 L949.4,492.8 L950.4,486.5 M951.8,487.2 L956.4,487.1 M954.2,487.3 L953.6,493.2" stroke-width="1.25"/>
<path d="M972.6,484.2 L976.9,484.2 L976.9,489.6 L972.6,489.6Z"/>
<path d="M930.9,497.6 L935.1,497.9 M933.0,497.7 L932.2,504.9 M936.4,498.5 L935.8,505.1 M940.8,498.9 L935.9,502.7 M937.4,501.6 L940.2,504.9 M948.5,501.5 L946.9,500.8 L947.3,499.2 L948.6,498.7 L949.7,499.3 L949.9,500.3 L948.3,501.6 L946.2,503.5 L946.8,505.0 L947.9,505.0 L949.4,504.6 L949.7,503.1 L948.4,501.6 M954.3,505.4 L955.4,498.7 L951.7,503.2 L956.1,503.3 M960.4,504.6 L961.1,498.1 L957.5,502.9 L961.6,502.5 M967.4,497.5 L964.2,498.0 L963.4,500.5 L965.5,500.5 L966.9,501.9 L965.6,504.0 L964.1,504.5 L963.0,503.7 M972.9,497.6 L971.2,497.7 L969.5,500.9 L968.7,503.4 L970.0,504.1 L972.2,503.3 L972.5,501.5 L971.0,500.8 L969.5,501.6 M978.2,497.5 L976.4,498.0 L974.8,500.5 L974.8,502.9 L975.9,504.5 L977.8,503.4 L977.9,501.3 L976.4,500.7 L974.9,501.6" stroke-width="1.25"/>
<path d="M1014.2,538.8 L1018.4,538.8 L1018.4,544.9 L1014.2,544.9Z"/>
<path d="M1025.0,535.4 L1024.4,541.7 L1027.6,541.6 M1030.7,535.0 L1030.0,541.3 M1032.2,541.1 L1033.0,534.6 L1036.1,541.2 L1036.5,534.4 M1038.2,535.2 L1037.6,541.7 M1042.2,534.9 L1037.8,539.1 M1039.5,538.0 L1041.6,541.6 M1047.7,535.7 L1047.1,540.2 L1047.9,541.8 L1049.9,541.7 L1051.1,540.3 L1051.8,535.4 M1052.4,541.1 L1053.1,534.8 L1056.1,534.9 L1056.6,535.7 L1056.5,537.6 L1055.4,538.2 L1052.6,538.5" stroke-width="1.25"/>
<path d="M1024.5,543.6 L1057.0,543.4" stroke-dasharray="5 1.5 2 1.5"/>
<!-- sk5.svg -->
<path d="M1098.5,7.5 L1098.5,62" stroke-width="2.2" stroke-linecap="butt"/>
<path d="M1098.5,62 L1098.5,208" stroke-width="1.6" stroke-linecap="butt"/>
<path d="M1098.5,208 L1098.5,303" stroke-width="1" stroke="#555" stroke-linecap="butt"/>
<path d="M503.3,119.2 L503.3,123.4" stroke-width="1.9" stroke-linecap="butt"/>
<path d="M503.3,126.3 L503.3,143.6" stroke-width="1.4" stroke-linecap="butt" stroke-dasharray="3.2 0.5 1.6 0.5"/>
<path d="M777.3,140.6 L790.6,131.2" stroke-width="2"/>
<path d="M46.3,841.2 L58.8,841.2" stroke-width="1.8" stroke-linecap="butt"/>
<path d="M115.0,841.2 L131.3,841.2" stroke-width="1.8" stroke-linecap="butt"/>
<path d="M251.3,840.1 L255.0,840.1" stroke-width="1.4" stroke-linecap="butt"/>
<path d="M262.5,840.1 L275.0,840.1" stroke-width="1.4" stroke-linecap="butt"/>
<path d="M278.8,840.1 L281.3,840.1" stroke-width="1.4" stroke-linecap="butt"/>
<path d="M285.0,840.1 L296.3,840.1" stroke-width="1.4" stroke-linecap="butt"/>
<path d="M303.8,840.1 L307.5,840.1" stroke-width="1.4" stroke-linecap="butt"/>
<path d="M310.0,840.1 L323.8,840.1" stroke-width="1.4" stroke-linecap="butt"/>
<path d="M411.3,840.1 L427.5,840.1" stroke-width="1.4" stroke-linecap="butt"/>
<path d="M428.8,840.1 L435.0,840.1" stroke-width="1.4" stroke-linecap="butt"/>
<path d="M453.8,840.1 L458.8,840.1" stroke-width="1.4" stroke-linecap="butt"/>
<path d="M460.0,840.1 L473.8,840.1" stroke-width="1.4" stroke-linecap="butt"/>
<path d="M522.5,840.2 L561.3,840.2" stroke-width="2.4" stroke-linecap="butt"/>
<path d="M565.0,840.2 L617.5,840.2" stroke-width="1.6" stroke-linecap="butt"/>
<path d="M623.8,840.1 L630.0,840.1" stroke-width="1.5" stroke-linecap="butt"/>
<path d="M631.5,840.1 L638.0,840.1" stroke-width="1.5" stroke-linecap="butt"/>
<path d="M639.5,840.1 L645.0,840.1" stroke-width="1.5" stroke-linecap="butt"/>
<path d="M646.5,840.1 L652.5,840.1" stroke-width="1.5" stroke-linecap="butt"/>
<path d="M655.5,840.1 L656.8,840.1" stroke-width="1.5" stroke-linecap="butt"/>
<path d="M667.0,839.8 L683.8,839.8" stroke-width="1.8" stroke-linecap="butt"/>
<path d="M691.3,839.6 L701.3,839.6" stroke-width="1.6" stroke-linecap="butt"/>
<path d="M703.3,839.8 L704.6,839.8" stroke-width="1.3" stroke-linecap="butt"/>
<path d="M710.0,839.9 L747.5,839.9" stroke-width="1.6" stroke-linecap="butt"/>
<path d="M747.5,839.6 L776.0,838.9" stroke-width="1.8" stroke-linecap="butt"/>
<path d="M770.0,838.8 L804.8,838.8" stroke-width="1.8" stroke-linecap="butt"/>
<path d="M813.9,838.8 L815.4,838.8" stroke-width="1.4" stroke-linecap="butt"/>
<path d="M818.4,838.8 L824.5,838.8" stroke-width="1.4" stroke-linecap="butt"/>
<path d="M838.0,838.8 L841.0,838.8" stroke-width="1.4" stroke-linecap="butt"/>
<path d="M842.6,838.8 L857.7,838.8" stroke-width="1.4" stroke-linecap="butt"/>
<path d="M866.8,838.7 L966.7,837.9" stroke-width="1.5" stroke-linecap="butt"/>
<path d="M974.2,838.3 L1016.6,838.3" stroke-width="1.7" stroke-linecap="butt"/>
<path d="M1019.6,838.3 L1039.3,838.3" stroke-width="1.4" stroke-linecap="butt"/>
<path d="M1043.8,838.4 L1068.0,838.4" stroke-width="1.4" stroke-linecap="butt"/>
<path d="M106.3,795 L120.6,799.6" stroke-width="1.9"/>
<ellipse cx="113.9" cy="810.4" rx="6.6" ry="4.2" transform="rotate(-16 113.9 810.4)" stroke-width="1.9"/>
<ellipse cx="80.0" cy="115.0" rx="0.75" ry="0.75" fill="#000" stroke="none"/>
<ellipse cx="149.0" cy="111.0" rx="0.75" ry="0.75" fill="#000" stroke="none"/>
<ellipse cx="141.5" cy="182.5" rx="0.75" ry="0.75" fill="#000" stroke="none"/>
<ellipse cx="144.6" cy="183.0" rx="0.75" ry="0.75" fill="#000" stroke="none"/>
<ellipse cx="190.0" cy="196.0" rx="0.80" ry="0.80" fill="#000" stroke="none"/>
<ellipse cx="410.5" cy="156.0" rx="0.75" ry="0.75" fill="#000" stroke="none"/>
<ellipse cx="506.9" cy="188.8" rx="0.80" ry="1.50" fill="#000" stroke="none"/>
<ellipse cx="527.0" cy="184.0" rx="1.00" ry="0.75" fill="#000" stroke="none"/>
<ellipse cx="913.0" cy="16.5" rx="0.75" ry="0.75" fill="#000" stroke="none"/>
<ellipse cx="777.0" cy="38.5" rx="0.75" ry="0.75" fill="#000" stroke="none"/>
<ellipse cx="849.5" cy="111.5" rx="0.75" ry="0.75" fill="#000" stroke="none"/>
<ellipse cx="583.0" cy="185.0" rx="0.75" ry="0.75" fill="#000" stroke="none"/>
<ellipse cx="1028.3" cy="49.9" rx="1.00" ry="1.00" fill="#000" stroke="none"/>
<ellipse cx="1054.9" cy="89.7" rx="1.80" ry="1.80" fill="#000" stroke="none"/>
<ellipse cx="987.8" cy="105.9" rx="1.00" ry="0.90" fill="#000" stroke="none"/>
<ellipse cx="1004.8" cy="111.1" rx="0.75" ry="0.75" fill="#000" stroke="none"/>
<ellipse cx="1006.8" cy="112.3" rx="0.80" ry="1.00" fill="#000" stroke="none"/>
<ellipse cx="1009.3" cy="111.5" rx="0.80" ry="0.80" fill="#000" stroke="none"/>
<ellipse cx="1012.6" cy="110.7" rx="1.10" ry="2.50" fill="#000" stroke="none"/>
<ellipse cx="1013.4" cy="113.4" rx="1.00" ry="1.00" fill="#000" stroke="none"/>
<ellipse cx="1016.7" cy="109.0" rx="0.80" ry="0.75" fill="#000" stroke="none"/>
<ellipse cx="1025.4" cy="111.1" rx="1.50" ry="1.70" fill="#000" stroke="none"/>
<ellipse cx="1003.9" cy="115.6" rx="0.75" ry="0.75" fill="#000" stroke="none"/>
<ellipse cx="1006.8" cy="117.3" rx="1.00" ry="1.00" fill="#000" stroke="none"/>
<ellipse cx="1008.9" cy="119.8" rx="1.00" ry="1.00" fill="#000" stroke="none"/>
<ellipse cx="1012.2" cy="118.1" rx="1.00" ry="1.50" fill="#000" stroke="none"/>
<ellipse cx="1015.9" cy="116.5" rx="1.50" ry="1.80" fill="#000" stroke="none"/>
<ellipse cx="1016.3" cy="119.2" rx="1.00" ry="1.00" fill="#000" stroke="none"/>
<ellipse cx="1022.9" cy="115.6" rx="0.75" ry="0.75" fill="#000" stroke="none"/>
<ellipse cx="1020.9" cy="119.4" rx="0.80" ry="0.75" fill="#000" stroke="none"/>
<ellipse cx="1024.2" cy="120.6" rx="0.90" ry="1.80" fill="#000" stroke="none"/>
<ellipse cx="1006.4" cy="125.6" rx="0.80" ry="0.75" fill="#000" stroke="none"/>
<ellipse cx="1012.9" cy="126.0" rx="1.00" ry="2.00" fill="#000" stroke="none"/>
<ellipse cx="1017.2" cy="125.4" rx="0.80" ry="0.75" fill="#000" stroke="none"/>
<ellipse cx="1005.8" cy="131.1" rx="0.80" ry="0.75" fill="#000" stroke="none"/>
<ellipse cx="1012.4" cy="130.9" rx="1.00" ry="1.50" fill="#000" stroke="none"/>
<ellipse cx="1016.2" cy="129.0" rx="0.80" ry="1.20" fill="#000" stroke="none"/>
<ellipse cx="1019.6" cy="134.2" rx="1.00" ry="1.50" fill="#000" stroke="none"/>
<ellipse cx="1021.9" cy="137.9" rx="0.75" ry="0.75" fill="#000" stroke="none"/>
<ellipse cx="1012.6" cy="141.5" rx="0.75" ry="0.75" fill="#000" stroke="none"/>
<ellipse cx="1017.2" cy="141.9" rx="0.75" ry="0.75" fill="#000" stroke="none"/>
<ellipse cx="1012.5" cy="147.2" rx="0.80" ry="0.75" fill="#000" stroke="none"/>
<ellipse cx="1012.6" cy="151.2" rx="1.00" ry="1.80" fill="#000" stroke="none"/>
<ellipse cx="1058.9" cy="114.4" rx="0.80" ry="2.30" fill="#000" stroke="none"/>
<ellipse cx="1063.0" cy="117.3" rx="1.00" ry="0.75" fill="#000" stroke="none"/>
<ellipse cx="106.5" cy="519.0" rx="1.60" ry="0.75" fill="#000" stroke="none"/>
<ellipse cx="147.5" cy="560.0" rx="0.80" ry="0.80" fill="#000" stroke="none"/>
<ellipse cx="153.5" cy="560.0" rx="0.75" ry="0.75" fill="#000" stroke="none"/>
<ellipse cx="186.0" cy="580.5" rx="0.80" ry="0.80" fill="#000" stroke="none"/>
<ellipse cx="145.0" cy="609.0" rx="0.75" ry="0.75" fill="#000" stroke="none"/>
<ellipse cx="177.5" cy="647.5" rx="1.20" ry="1.20" fill="#000" stroke="none"/>
<ellipse cx="299.0" cy="485.5" rx="0.75" ry="0.75" fill="#000" stroke="none"/>
<ellipse cx="411.5" cy="643.0" rx="1.00" ry="1.00" fill="#000" stroke="none"/>
<ellipse cx="235.0" cy="685.0" rx="0.75" ry="1.80" fill="#000" stroke="none"/>
<ellipse cx="492.5" cy="558.0" rx="0.75" ry="0.75" fill="#000" stroke="none"/>
<ellipse cx="348.5" cy="745.0" rx="0.75" ry="1.50" fill="#000" stroke="none"/>
<ellipse cx="402.5" cy="771.5" rx="0.75" ry="0.75" fill="#000" stroke="none"/>
<ellipse cx="166.0" cy="780.5" rx="0.90" ry="0.90" fill="#000" stroke="none"/>
<ellipse cx="299.5" cy="812.3" rx="0.75" ry="0.75" fill="#000" stroke="none"/>
<ellipse cx="199.3" cy="839.3" rx="0.75" ry="0.75" fill="#000" stroke="none"/>
<ellipse cx="611.0" cy="538.0" rx="0.75" ry="0.75" fill="#000" stroke="none"/>
<ellipse cx="618.5" cy="533.0" rx="0.75" ry="0.75" fill="#000" stroke="none"/>
<ellipse cx="618.5" cy="536.6" rx="0.75" ry="0.80" fill="#000" stroke="none"/>
<ellipse cx="633.0" cy="603.0" rx="1.40" ry="1.30" fill="#000" stroke="none"/>
<ellipse cx="683.0" cy="685.0" rx="0.80" ry="0.80" fill="#000" stroke="none"/>
<ellipse cx="700.5" cy="685.5" rx="0.80" ry="2.00" fill="#000" stroke="none"/>
<ellipse cx="630.8" cy="781.4" rx="0.75" ry="0.75" fill="#000" stroke="none"/>
<ellipse cx="659.6" cy="789.4" rx="0.75" ry="0.75" fill="#000" stroke="none"/>
<ellipse cx="941.0" cy="816.6" rx="0.75" ry="0.75" fill="#000" stroke="none"/>
<ellipse cx="988.5" cy="816.8" rx="0.90" ry="1.10" fill="#000" stroke="none"/>
<ellipse cx="1038.2" cy="367.8" rx="2.10" ry="0.85" fill="#000" stroke="none"/>
<ellipse cx="922.2" cy="295.4" rx="0.75" ry="0.75" fill="#000" stroke="none"/>
<ellipse cx="981.8" cy="297.4" rx="0.75" ry="0.75" fill="#000" stroke="none"/>
<ellipse cx="984.5" cy="358.7" rx="0.75" ry="0.80" fill="#000" stroke="none"/>
<ellipse cx="1051.8" cy="408.2" rx="1.30" ry="1.20" fill="#000" stroke="none"/>
<ellipse cx="1075.3" cy="417.8" rx="0.75" ry="0.75" fill="#000" stroke="none"/>
<ellipse cx="1033.0" cy="490.8" rx="0.75" ry="0.75" fill="#000" stroke="none"/>
<ellipse cx="1047.3" cy="489.0" rx="0.75" ry="0.75" fill="#000" stroke="none"/>
<ellipse cx="1056.5" cy="499.0" rx="0.80" ry="0.80" fill="#000" stroke="none"/>
<ellipse cx="1053.0" cy="505.2" rx="0.75" ry="0.75" fill="#000" stroke="none"/>
<ellipse cx="1053.5" cy="521.3" rx="0.75" ry="0.75" fill="#000" stroke="none"/>
<ellipse cx="1062.2" cy="570.3" rx="0.75" ry="0.75" fill="#000" stroke="none"/>
<ellipse cx="1064.7" cy="570.3" rx="0.75" ry="0.75" fill="#000" stroke="none"/>
<ellipse cx="1056.0" cy="572.0" rx="0.75" ry="0.75" fill="#000" stroke="none"/>
<ellipse cx="1054.8" cy="576.2" rx="0.75" ry="1.50" fill="#000" stroke="none"/>
<ellipse cx="1061.7" cy="575.7" rx="0.75" ry="0.75" fill="#000" stroke="none"/>
<ellipse cx="1060.9" cy="585.6" rx="0.75" ry="0.75" fill="#000" stroke="none"/>
<ellipse cx="1078.3" cy="591.3" rx="0.75" ry="0.75" fill="#000" stroke="none"/>
<ellipse cx="1080.7" cy="594.3" rx="0.75" ry="0.75" fill="#000" stroke="none"/>
<ellipse cx="1016.4" cy="636.4" rx="0.80" ry="1.60" fill="#000" stroke="none"/>
<ellipse cx="1025.4" cy="639.6" rx="0.75" ry="0.75" fill="#000" stroke="none"/>
<ellipse cx="1054.9" cy="636.4" rx="0.75" ry="0.75" fill="#000" stroke="none"/>
<ellipse cx="1024.0" cy="645.8" rx="0.80" ry="1.60" fill="#000" stroke="none"/>
<ellipse cx="1025.8" cy="650.3" rx="0.75" ry="0.75" fill="#000" stroke="none"/>
<ellipse cx="1029.8" cy="653.2" rx="0.75" ry="0.90" fill="#000" stroke="none"/>
<ellipse cx="1009.0" cy="656.3" rx="0.90" ry="0.90" fill="#000" stroke="none"/>
<ellipse cx="1024.0" cy="656.6" rx="1.10" ry="1.10" fill="#000" stroke="none"/>
<ellipse cx="1021.3" cy="662.6" rx="0.75" ry="0.75" fill="#000" stroke="none"/>
<ellipse cx="1024.0" cy="661.5" rx="0.75" ry="0.75" fill="#000" stroke="none"/>
<ellipse cx="1026.5" cy="663.0" rx="0.75" ry="0.75" fill="#000" stroke="none"/>
<ellipse cx="1025.4" cy="670.9" rx="0.75" ry="0.75" fill="#000" stroke="none"/>
<ellipse cx="1026.3" cy="676.0" rx="0.75" ry="0.80" fill="#000" stroke="none"/>
<ellipse cx="1023.6" cy="685.0" rx="0.75" ry="0.75" fill="#000" stroke="none"/>
<ellipse cx="1056.5" cy="697.3" rx="0.80" ry="1.60" fill="#000" stroke="none"/>
<ellipse cx="1059.8" cy="699.5" rx="0.75" ry="0.75" fill="#000" stroke="none"/>
<ellipse cx="1021.3" cy="704.5" rx="0.75" ry="0.75" fill="#000" stroke="none"/>
<ellipse cx="1023.1" cy="706.9" rx="1.00" ry="1.00" fill="#000" stroke="none"/>
<ellipse cx="1023.1" cy="719.0" rx="1.10" ry="1.50" fill="#000" stroke="none"/>
<ellipse cx="1025.4" cy="721.3" rx="0.75" ry="0.75" fill="#000" stroke="none"/>
<ellipse cx="1022.9" cy="725.3" rx="0.80" ry="1.50" fill="#000" stroke="none"/>
<ellipse cx="1011.9" cy="726.9" rx="1.10" ry="0.90" fill="#000" stroke="none"/>
<ellipse cx="1013.1" cy="734.7" rx="0.80" ry="0.80" fill="#000" stroke="none"/>
<ellipse cx="1009.0" cy="739.8" rx="0.75" ry="0.75" fill="#000" stroke="none"/>
<ellipse cx="1015.3" cy="739.8" rx="0.80" ry="0.80" fill="#000" stroke="none"/>
<ellipse cx="1020.2" cy="739.8" rx="1.10" ry="1.00" fill="#000" stroke="none"/>
<ellipse cx="1022.5" cy="745.0" rx="0.80" ry="0.80" fill="#000" stroke="none"/>
<ellipse cx="1025.1" cy="747.7" rx="1.00" ry="1.00" fill="#000" stroke="none"/>
<ellipse cx="1053.1" cy="744.3" rx="0.75" ry="0.75" fill="#000" stroke="none"/>
<ellipse cx="1024.7" cy="775.2" rx="0.75" ry="0.75" fill="#000" stroke="none"/>
<ellipse cx="1022.5" cy="783.0" rx="0.75" ry="0.75" fill="#000" stroke="none"/>
<ellipse cx="527.5" cy="183.5" rx="0.75" ry="0.75" fill="#000" stroke="none"/>
<ellipse cx="225.6" cy="539.2" rx="0.75" ry="0.75" fill="#000" stroke="none"/>
<ellipse cx="1023.9" cy="480.9" rx="0.75" ry="0.75" fill="#000" stroke="none"/>
<ellipse cx="1009.0" cy="493.1" rx="0.80" ry="0.90" fill="#000" stroke="none"/>
<ellipse cx="1033.5" cy="491.0" rx="0.90" ry="0.80" fill="#000" stroke="none"/>
<ellipse cx="1047.7" cy="489.0" rx="0.75" ry="0.75" fill="#000" stroke="none"/>
<ellipse cx="1018.9" cy="471.4" rx="0.75" ry="0.75" fill="#000" stroke="none"/>
<ellipse cx="1019.2" cy="525.4" rx="0.75" ry="0.75" fill="#000" stroke="none"/>
<ellipse cx="971.6" cy="478.8" rx="0.75" ry="0.75" fill="#000" stroke="none"/>
<ellipse cx="329.0" cy="222.5" rx="0.75" ry="0.75" fill="#000" stroke="none"/>
<ellipse cx="540.5" cy="420.5" rx="0.75" ry="0.75" fill="#000" stroke="none"/>
<path d="M1061.7,470.5 L1061.7,471.6 M1061.7,472.2 L1061.7,473.6 M1061.7,474.2 L1061.7,475.1 M1061.7,475.8 L1061.7,477.9 M1061.7,479.0 L1061.7,480.9 M1061.7,481.5 L1061.7,483.1 M1061.7,483.8 L1061.7,484.8 M1061.7,485.4 L1061.7,486.5 M1061.7,487.6 L1061.7,489.6 M1061.7,490.6 L1061.7,492.6 M1061.7,493.2 L1061.7,494.4" stroke-width="1.9" stroke-linecap="butt"/>
<circle cx="1058.4" cy="489.9" r="0.94" fill="#000" stroke="none"/>
<circle cx="1053.6" cy="485.4" r="0.84" fill="#000" stroke="none"/>
<circle cx="1056.7" cy="477.7" r="0.74" fill="#000" stroke="none"/>
<circle cx="1053.7" cy="491.3" r="0.93" fill="#000" stroke="none"/>
<circle cx="1057.1" cy="479.9" r="0.95" fill="#000" stroke="none"/>
<circle cx="1057.2" cy="490.4" r="0.92" fill="#000" stroke="none"/>
<circle cx="1056.8" cy="482.0" r="0.80" fill="#000" stroke="none"/>
<circle cx="1056.2" cy="477.4" r="0.65" fill="#000" stroke="none"/>
<circle cx="1059.0" cy="475.3" r="0.52" fill="#000" stroke="none"/>
<circle cx="1057.6" cy="479.5" r="0.77" fill="#000" stroke="none"/>
<circle cx="1056.5" cy="480.7" r="1.00" fill="#000" stroke="none"/>
<circle cx="1054.4" cy="481.9" r="0.60" fill="#000" stroke="none"/>
<circle cx="1057.7" cy="479.5" r="0.68" fill="#000" stroke="none"/>
<circle cx="1058.5" cy="480.3" r="0.78" fill="#000" stroke="none"/>
<circle cx="1065.7" cy="474.3" r="0.5" fill="#000" stroke="none"/>
<circle cx="1063.2" cy="477.3" r="0.5" fill="#000" stroke="none"/>
<circle cx="1065.3" cy="486.2" r="0.5" fill="#000" stroke="none"/>
<circle cx="1063.7" cy="479.6" r="0.5" fill="#000" stroke="none"/>
<circle cx="1063.5" cy="482.6" r="0.5" fill="#000" stroke="none"/>
<!--/ART-->
</svg>

</body>
</html>
